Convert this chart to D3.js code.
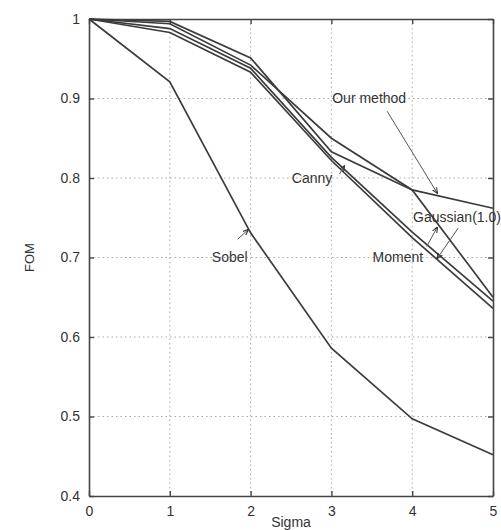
<!DOCTYPE html>
<html>
<head>
<meta charset="utf-8">
<script src="https://d3js.org/d3.v7.min.js"></script>
<style>
  body { margin: 0; background: #fff; }
  text { font-family: "Liberation Sans", Arial, sans-serif; fill: #333; }
</style>
</head>
<body>
<svg id="drawing_region"></svg>
<script>
// sigma values on the x axis
const sigma = [0, 1, 2, 3, 4, 5];

// FOM for each detector
const sobel     = [1.0, 0.921, 0.731, 0.586, 0.497, 0.452];
const ourMethod = [1.0, 0.997, 0.951, 0.833, 0.785, 0.762];
const gaussian  = [1.0, 0.994, 0.942, 0.850, 0.785, 0.650];
const canny     = [1.0, 0.988, 0.938, 0.826, 0.732, 0.645];
const moment    = [1.0, 0.983, 0.933, 0.822, 0.725, 0.636];

const xTicks = [0, 1, 2, 3, 4, 5];
const yTicks = [0.4, 0.5, 0.6, 0.7, 0.8, 0.9, 1];

// label text, label position, arrow start and tip (all in data units)
const labels = [
    {text: "Sobel",         tx: 1.52, ty: 0.694, ax: 1.84, ay: 0.723, bx: 1.97, by: 0.735},
    {text: "Canny",         tx: 2.51, ty: 0.794, ax: 3.10, ay: 0.805, bx: 3.16, by: 0.815},
    {text: "Our method",    tx: 3.01, ty: 0.894, ax: 3.69, ay: 0.884, bx: 4.31, by: 0.781},
    {text: "Gaussian(1.0)", tx: 4.01, ty: 0.745, ax: 4.18, ay: 0.714, bx: 4.31, by: 0.738},
    {text: "Moment",        tx: 3.51, ty: 0.694, ax: 4.57, ay: 0.737, bx: 4.31, by: 0.699}
];

const config = {
    width: 501,
    height: 530,
    margin: {top: 19, right: 8, bottom: 34, left: 89}
};

const svg = d3.select('#drawing_region')
    .attr('width', config.width)
    .attr('height', config.height);

const inner_width = config.width - config.margin.left - config.margin.right;
const inner_height = config.height - config.margin.top - config.margin.bottom;

const chart = svg.append('g')
    .attr('transform', `translate(${config.margin.left}, ${config.margin.top})`);

const xscale = d3.scaleLinear().domain([0, 5]).range([0, inner_width]);
const yscale = d3.scaleLinear().domain([0.4, 1]).range([inner_height, 0]);

// dotted grid
chart.append('g')
    .selectAll('line')
    .data(xTicks.slice(1, -1))
    .join('line')
    .attr('x1', d => xscale(d)).attr('x2', d => xscale(d))
    .attr('y1', 0).attr('y2', inner_height)
    .attr('stroke', '#aaa').attr('stroke-width', 1)
    .attr('stroke-dasharray', '1.5,3');

chart.append('g')
    .selectAll('line')
    .data(yTicks.slice(1, -1))
    .join('line')
    .attr('x1', 0).attr('x2', inner_width)
    .attr('y1', d => yscale(d)).attr('y2', d => yscale(d))
    .attr('stroke', '#aaa').attr('stroke-width', 1)
    .attr('stroke-dasharray', '1.5,3');

// axes with inward ticks on all four sides
const tickFmt = d => d3.format('~g')(d);

const xaxis_bottom = chart.append('g')
    .attr('transform', `translate(0, ${inner_height})`)
    .call(d3.axisBottom(xscale).tickValues(xTicks).tickFormat(tickFmt).tickSizeInner(-5).tickSizeOuter(0).tickPadding(10));

const xaxis_top = chart.append('g')
    .call(d3.axisTop(xscale).tickValues(xTicks).tickFormat('').tickSizeInner(-5).tickSizeOuter(0));

const yaxis_left = chart.append('g')
    .call(d3.axisLeft(yscale).tickValues(yTicks).tickFormat(tickFmt).tickSizeInner(-5).tickSizeOuter(0).tickPadding(9));

const yaxis_right = chart.append('g')
    .attr('transform', `translate(${inner_width}, 0)`)
    .call(d3.axisRight(yscale).tickValues(yTicks).tickFormat('').tickSizeInner(-5).tickSizeOuter(0));

[xaxis_bottom, xaxis_top, yaxis_left, yaxis_right].forEach(g => {
    g.select('.domain').attr('stroke', '#444').attr('stroke-width', 1.6);
    g.selectAll('.tick line').attr('stroke', '#444').attr('stroke-width', 1.4);
    g.selectAll('.tick text').attr('font-size', '14px').attr('fill', '#333')
        .attr('font-family', '"Liberation Sans", Arial, sans-serif');
});

// series lines
const series = [sobel, ourMethod, gaussian, canny, moment];
const line = d3.line()
    .x((d, i) => xscale(sigma[i]))
    .y(d => yscale(d));

chart.append('g')
    .selectAll('path')
    .data(series)
    .join('path')
    .attr('d', d => line(d))
    .attr('fill', 'none')
    .attr('stroke', '#3c3c3c')
    .attr('stroke-width', 1.7);

// annotation arrows
svg.append('defs').append('marker')
    .attr('id', 'head')
    .attr('viewBox', '0 0 10 10')
    .attr('refX', 9).attr('refY', 5)
    .attr('markerWidth', 6).attr('markerHeight', 6)
    .attr('orient', 'auto')
    .append('path')
    .attr('d', 'M0,1 L10,5 L0,9')
    .attr('fill', 'none')
    .attr('stroke', '#333')
    .attr('stroke-width', 1.8);

chart.append('g')
    .selectAll('line')
    .data(labels)
    .join('line')
    .attr('x1', d => xscale(d.ax)).attr('y1', d => yscale(d.ay))
    .attr('x2', d => xscale(d.bx)).attr('y2', d => yscale(d.by))
    .attr('stroke', '#555').attr('stroke-width', 1)
    .attr('marker-end', 'url(#head)');

chart.append('g')
    .selectAll('text')
    .data(labels)
    .join('text')
    .attr('x', d => xscale(d.tx))
    .attr('y', d => yscale(d.ty))
    .attr('font-size', '14px')
    .text(d => d.text);

// axis titles
svg.append('text')
    .attr('x', config.margin.left + inner_width / 2)
    .attr('y', 527)
    .attr('text-anchor', 'middle')
    .attr('font-size', '14px')
    .text('Sigma');

svg.append('text')
    .attr('transform', `translate(34, ${config.margin.top + inner_height / 2}) rotate(-90)`)
    .attr('text-anchor', 'middle')
    .attr('font-size', '13px')
    .text('FOM');
</script>
</body>
</html>
